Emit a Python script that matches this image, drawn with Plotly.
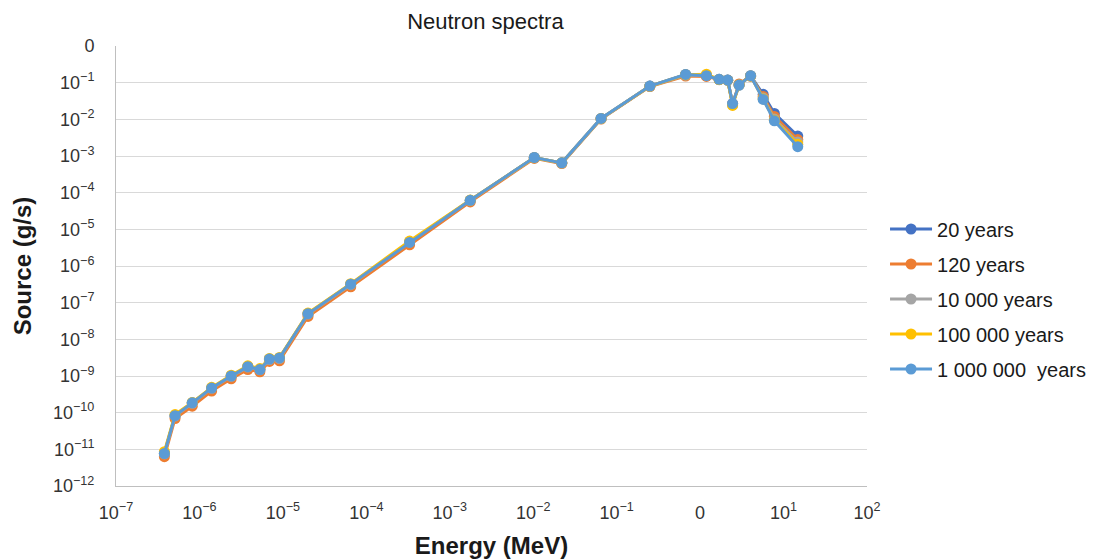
import plotly.graph_objects as go

energy = [3.8e-7, 5.1e-7, 8.2e-7, 1.4e-6, 2.4e-6, 3.8e-6, 5.3e-6, 6.9e-6, 9.1e-6,
          2.0e-5, 6.5e-5, 3.3e-4, 1.76e-3, 1.03e-2, 2.2e-2, 0.065, 0.25, 0.67,
          1.19, 1.69, 2.14, 2.45, 2.93, 4.03, 5.7, 7.76, 14.8]

y_20 = [7.7e-12, 8.3e-11, 1.85e-10, 4.7e-10, 1.0e-9, 1.8e-9, 1.5e-9, 2.9e-9, 3.1e-9,
        5.0e-8, 3.2e-7, 4.4e-6, 6.2e-5, 9.1e-4, 6.5e-4, 0.0106, 0.081, 0.168,
        0.155, 0.123, 0.118, 0.027, 0.086, 0.155, 0.048, 0.0145, 0.0035]
y_120 = [6.3e-12, 6.9e-11, 1.5e-10, 3.9e-10, 8.4e-10, 1.5e-9, 1.3e-9, 2.5e-9, 2.6e-9,
         4.2e-8, 2.7e-7, 3.8e-6, 5.6e-5, 8.6e-4, 6.2e-4, 0.0102, 0.078, 0.152,
         0.148, 0.121, 0.117, 0.026, 0.092, 0.150, 0.042, 0.012, 0.0028]
y_10k = [7.5e-12, 8.1e-11, 1.8e-10, 4.6e-10, 0.98e-9, 1.75e-9, 1.48e-9, 2.8e-9, 3.0e-9,
         4.9e-8, 3.1e-7, 4.5e-6, 6.1e-5, 8.9e-4, 6.4e-4, 0.0104, 0.080, 0.16,
         0.16, 0.122, 0.117, 0.025, 0.087, 0.152, 0.038, 0.0102, 0.0024]
y_100k = [8.6e-12, 8.9e-11, 1.9e-10, 4.9e-10, 1.05e-9, 1.9e-9, 1.6e-9, 3.0e-9, 3.2e-9,
          5.2e-8, 3.3e-7, 4.8e-6, 6.3e-5, 9.0e-4, 6.5e-4, 0.0105, 0.080, 0.165,
          0.17, 0.122, 0.117, 0.024, 0.087, 0.153, 0.036, 0.0095, 0.0021]
y_1m = [7.7e-12, 8.3e-11, 1.85e-10, 4.7e-10, 1.0e-9, 1.8e-9, 1.5e-9, 2.9e-9, 3.1e-9,
        5.0e-8, 3.2e-7, 4.4e-6, 6.2e-5, 9.1e-4, 6.5e-4, 0.0106, 0.081, 0.168,
        0.155, 0.123, 0.118, 0.027, 0.086, 0.155, 0.035, 0.0091, 0.0018]

series_names = ["20 years", "120 years", "10 000 years", "100 000 years", "1 000 000&nbsp; years"]
series_vals = [y_20, y_120, y_10k, y_100k, y_1m]
colors = ["#4472C4", "#ED7D31", "#A5A5A5", "#FFC000", "#5B9BD5"]

x_tickvals = [1e-7, 1e-6, 1e-5, 1e-4, 1e-3, 1e-2, 1e-1, 1e0, 1e1, 1e2]
x_ticktext = ["10<sup>−7</sup>", "10<sup>−6</sup>", "10<sup>−5</sup>", "10<sup>−4</sup>",
              "10<sup>−3</sup>", "10<sup>−2</sup>", "10<sup>−1</sup>", "0",
              "10<sup>1</sup>", "10<sup>2</sup>"]
y_tickvals = [10.0 ** e for e in range(-12, 1)]
y_ticktext = ["10<sup>−%d</sup>" % (-e) for e in range(-12, 0)] + ["0"]

FONT = "Liberation Sans, Arial, sans-serif"

fig = go.Figure()
for i, (name, vals, col) in enumerate(zip(series_names, series_vals, colors)):
    fig.add_trace(go.Scatter(
        x=energy, y=vals, mode="lines+markers", name=name,
        line=dict(color=col, width=3),
        marker=dict(color=col, size=11),
        legendgroup="g%d" % i,
    ))

fig.update_layout(
    width=1095, height=552,
    margin=dict(l=108, r=236, t=38, b=74, autoexpand=False),
    paper_bgcolor="white", plot_bgcolor="white",
    font=dict(family=FONT, size=18, color="#262626"),
    title=dict(text="Neutron spectra", x=0.436, xanchor="center", y=0.976, yanchor="middle",
               font=dict(family=FONT, size=22, color="#1a1a1a")),
    showlegend=True,
    legend=dict(x=1.024, xanchor="left", y=0.425, yanchor="middle",
                traceorder="grouped", tracegroupgap=6, itemwidth=42,
                font=dict(family=FONT, size=20, color="#1a1a1a"),
                bgcolor="rgba(0,0,0,0)"),
)
fig.update_xaxes(
    type="log", range=[-7, 2], tickvals=x_tickvals, ticktext=x_ticktext,
    showgrid=False, showline=True, linecolor="#BFBFBF", linewidth=1,
    ticks="", tickfont=dict(family=FONT, size=18, color="#333333"), ticklabelstandoff=10,
    title=dict(text="<b>Energy (MeV)</b>", font=dict(family=FONT, size=24, color="#1a1a1a"), standoff=15),
    zeroline=False,
)
fig.update_yaxes(
    type="log", range=[-12, 0], tickvals=y_tickvals, ticktext=y_ticktext,
    showgrid=True, gridcolor="#D9D9D9", gridwidth=1,
    showline=True, linecolor="#BFBFBF", linewidth=1,
    ticks="", tickfont=dict(family=FONT, size=18, color="#333333"), ticklabelstandoff=17,
    title=dict(text="<b>Source (g/s)</b>", font=dict(family=FONT, size=24, color="#1a1a1a"), standoff=14),
    zeroline=False,
)

fig.write_html("out.html")
